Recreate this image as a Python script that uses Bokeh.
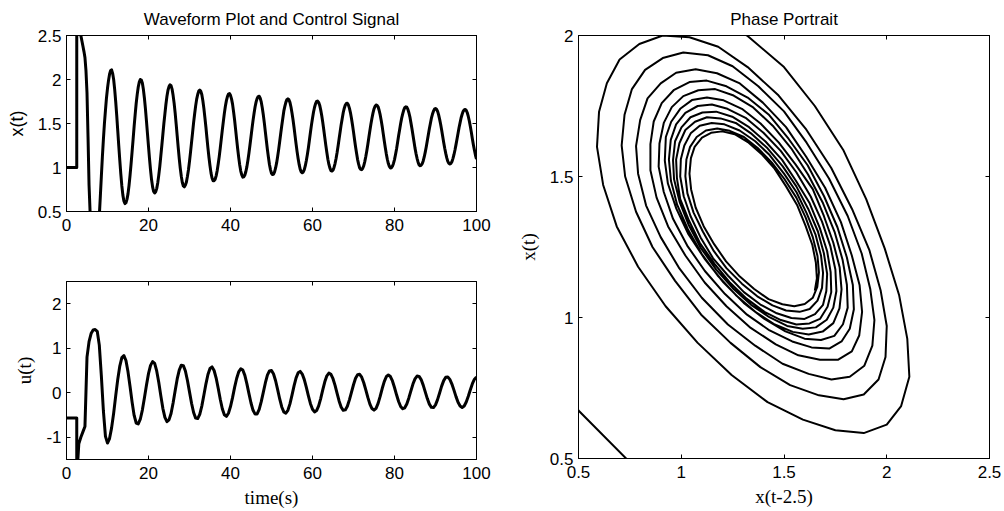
import numpy as np
from bokeh.plotting import figure
from bokeh.layouts import row, column
from bokeh.models import Range1d, LinearAxis, FixedTicker, CustomJSTickFormatter
from bokeh.embed import file_html
from bokeh.resources import INLINE

# ---------------- data ----------------
hist_time = [0.0, 2.5]          # history interval (constant initial function)
hist_x = [1.0, 1.0]
hist_u = [-0.57, -0.57]
sol_start = 2.5
x_step = 0.25
u_step = 0.5
delay = 2.5

# x(t), t = 2.5, 2.75, ..., 100
x_sol = [
    3.3, 3.07, 2.85, 2.66, 2.5, 2.44, 2.38, 2.32, 2.25, 2.1,
    1.85, 1.35, 0.8, 0.5, 0.3, 0.19, 0.12, 0.09, 0.08, 0.11,
    0.18, 0.29, 0.45, 0.67, 0.9, 1.12, 1.32, 1.5, 1.65, 1.79,
    1.9, 1.99, 2.06, 2.1, 2.11, 2.07, 2.0, 1.888, 1.75, 1.592,
    1.42, 1.245, 1.08, 0.924, 0.79, 0.686, 0.62, 0.59, 0.6, 0.638,
    0.7, 0.796, 0.91, 1.04, 1.18, 1.323, 1.47, 1.605, 1.73, 1.831,
    1.915, 1.97, 2.0, 1.994, 1.96, 1.888, 1.79, 1.67, 1.53, 1.385,
    1.24, 1.097, 0.97, 0.86, 0.78, 0.727, 0.71, 0.724, 0.76, 0.824,
    0.91, 1.01, 1.13, 1.25, 1.375, 1.5, 1.61, 1.719, 1.81, 1.878,
    1.92, 1.94, 1.93, 1.891, 1.82, 1.731, 1.62, 1.493, 1.36, 1.227,
    1.1, 0.991, 0.9, 0.829, 0.79, 0.78, 0.8, 0.836, 0.9, 0.975,
    1.07, 1.174, 1.285, 1.397, 1.51, 1.608, 1.7, 1.777, 1.83, 1.868,
    1.88, 1.866, 1.83, 1.762, 1.675, 1.57, 1.46, 1.338, 1.22, 1.114,
    1.02, 0.936, 0.88, 0.85, 0.85, 0.866, 0.905, 0.963, 1.04, 1.124,
    1.22, 1.323, 1.425, 1.522, 1.615, 1.695, 1.76, 1.806, 1.835, 1.84,
    1.82, 1.78, 1.72, 1.634, 1.54, 1.43, 1.32, 1.213, 1.115, 1.029,
    0.96, 0.915, 0.89, 0.894, 0.915, 0.954, 1.01, 1.083, 1.165, 1.255,
    1.35, 1.445, 1.535, 1.617, 1.69, 1.746, 1.785, 1.806, 1.81, 1.787,
    1.745, 1.68, 1.6, 1.507, 1.405, 1.304, 1.205, 1.116, 1.035, 0.976,
    0.935, 0.92, 0.925, 0.951, 0.995, 1.052, 1.125, 1.206, 1.295, 1.386,
    1.475, 1.556, 1.64, 1.694, 1.74, 1.771, 1.78, 1.77, 1.74, 1.688,
    1.62, 1.543, 1.455, 1.36, 1.265, 1.177, 1.1, 1.032, 0.98, 0.95,
    0.94, 0.949, 0.975, 1.02, 1.08, 1.149, 1.225, 1.313, 1.4, 1.484,
    1.56, 1.63, 1.685, 1.726, 1.75, 1.755, 1.74, 1.708, 1.655, 1.591,
    1.515, 1.429, 1.34, 1.252, 1.17, 1.094, 1.035, 0.992, 0.965, 0.96,
    0.97, 1.001, 1.045, 1.103, 1.17, 1.248, 1.33, 1.41, 1.49, 1.558,
    1.625, 1.674, 1.71, 1.727, 1.73, 1.712, 1.675, 1.624, 1.56, 1.485,
    1.405, 1.318, 1.235, 1.161, 1.09, 1.038, 0.995, 0.979, 0.975, 0.991,
    1.02, 1.067, 1.125, 1.191, 1.265, 1.343, 1.42, 1.494, 1.56, 1.618,
    1.665, 1.694, 1.71, 1.706, 1.69, 1.651, 1.6, 1.536, 1.465, 1.385,
    1.305, 1.228, 1.155, 1.094, 1.045, 1.012, 0.995, 0.998, 1.015, 1.046,
    1.09, 1.148, 1.21, 1.284, 1.36, 1.43, 1.5, 1.561, 1.61, 1.653,
    1.68, 1.69, 1.685, 1.663, 1.625, 1.576, 1.51, 1.444, 1.37, 1.295,
    1.22, 1.158, 1.105, 1.06, 1.03, 1.02, 1.025, 1.043, 1.075, 1.12,
    1.175, 1.236, 1.305, 1.372, 1.44, 1.501, 1.56, 1.605, 1.64, 1.663,
    1.67, 1.662, 1.64, 1.601, 1.55, 1.492, 1.425, 1.355, 1.285, 1.218,
    1.16, 1.109, 1.07, 1.048, 1.04, 1.047, 1.065, 1.101, 1.145, 1.199,
    1.26, 1.324, 1.39, 1.454, 1.51, 1.565, 1.605, 1.638, 1.655, 1.66,
    1.65, 1.622, 1.58, 1.528, 1.465, 1.397, 1.325, 1.257, 1.195, 1.139,
    1.095,
]

# u(t), t = 2.5, 3.0, ..., 100
u_sol = [
    -1.9, -1.15, -1.0, -0.88, -0.76, 0.8, 1.15, 1.33, 1.41, 1.42,
    1.38, 1.07, 0.38, -0.41, -0.98, -1.13, -1.03, -0.79, -0.46, -0.07,
    0.3, 0.6, 0.79, 0.835, 0.725, 0.47, 0.14, -0.21, -0.51, -0.68,
    -0.7, -0.595, -0.39, -0.12, 0.17, 0.43, 0.615, 0.7, 0.66, 0.49,
    0.235, -0.065, -0.35, -0.555, -0.65, -0.61, -0.465, -0.23, 0.045, 0.31,
    0.51, 0.62, 0.61, 0.49, 0.275, 0.02, -0.235, -0.445, -0.57, -0.58,
    -0.485, -0.3, -0.055, 0.195, 0.41, 0.545, 0.58, 0.5, 0.33, 0.1,
    -0.147, -0.36, -0.495, -0.53, -0.46, -0.31, -0.11, 0.12, 0.32, 0.47,
    0.54, 0.51, 0.39, 0.2, -0.02, -0.23, -0.395, -0.48, -0.475, -0.375,
    -0.2, 0.01, 0.22, 0.395, 0.49, 0.5, 0.42, 0.27, 0.07, -0.14,
    -0.32, -0.43, -0.46, -0.395, -0.25, -0.055, 0.155, 0.335, 0.45, 0.48,
    0.42, 0.295, 0.12, -0.07, -0.245, -0.37, -0.43, -0.4, -0.295, -0.13,
    0.065, 0.245, 0.38, 0.44, 0.415, 0.315, 0.165, -0.015, -0.19, -0.325,
    -0.395, -0.385, -0.305, -0.16, 0.01, 0.18, 0.325, 0.405, 0.415, 0.35,
    0.225, 0.065, -0.105, -0.255, -0.355, -0.39, -0.35, -0.24, -0.083, 0.095,
    0.25, 0.36, 0.4, 0.365, 0.265, 0.118, -0.046, -0.197, -0.31, -0.36,
    -0.338, -0.252, -0.116, 0.043, 0.195, 0.312, 0.374, 0.368, 0.296, 0.171,
    0.02, -0.131, -0.256, -0.328, -0.334, -0.273, -0.155, -0.005, 0.149, 0.272,
    0.347, 0.355, 0.301, 0.196, 0.059, -0.087, -0.215, -0.299, -0.33, -0.298,
    -0.208, -0.078, 0.069, 0.204, 0.304, 0.35,
]

time_ticks = [0, 20, 40, 60, 80, 100]
x_ticks = [0.5, 1, 1.5, 2, 2.5]
u_ticks = [-1, 0, 1, 2]
phase_x_ticks = [0.5, 1, 1.5, 2, 2.5]
phase_y_ticks = [0.5, 1, 1.5, 2]

# ---------------- derived series ----------------
tx_sol = sol_start + x_step * np.arange(len(x_sol))
tu_sol = sol_start + u_step * np.arange(len(u_sol))
tx_all = np.concatenate([hist_time, tx_sol])
x_all = np.concatenate([hist_x, x_sol])
tu_all = np.concatenate([hist_time, tu_sol])
u_all = np.concatenate([hist_u, u_sol])
lag = int(round(delay / x_step))
phase_delayed = np.array(x_sol[:-lag])   # x(t-2.5)
phase_now = np.array(x_sol[lag:])        # x(t)

# ---------------- styling helpers ----------------
SANS = "Liberation Sans"
SERIF = "Liberation Serif"
TICK_SIZE = "17px"
fmt_code = "return String(Math.round(tick*100)/100);"


def style_axis(ax, ticks, standoff):
    ax.ticker = FixedTicker(ticks=ticks)
    ax.formatter = CustomJSTickFormatter(code=fmt_code)
    ax.major_tick_in = 4
    ax.major_tick_out = 0
    ax.minor_tick_line_color = None
    ax.axis_line_color = "black"
    ax.major_tick_line_color = "black"
    ax.major_label_text_font = SANS
    ax.major_label_text_font_size = TICK_SIZE
    ax.major_label_text_color = "black"
    ax.major_label_standoff = standoff


def mirror_axis(ticks):
    ax = LinearAxis(ticker=FixedTicker(ticks=ticks))
    ax.major_tick_in = 4
    ax.major_tick_out = 0
    ax.minor_tick_line_color = None
    ax.axis_line_color = "black"
    ax.major_label_overrides = {t: "" for t in ticks}
    ax.major_label_text_font_size = "1px"
    ax.major_label_standoff = 0
    return ax


def make_fig(w, h, xr, yr, xt, yt, borders):
    left, right, top, bottom = borders
    p = figure(width=w, height=h, x_range=Range1d(*xr), y_range=Range1d(*yr),
               output_backend="svg", toolbar_location=None,
               min_border_left=left, min_border_right=right,
               min_border_top=top, min_border_bottom=bottom)
    p.xgrid.visible = False
    p.ygrid.visible = False
    p.outline_line_color = "black"
    p.background_fill_color = "white"
    p.border_fill_color = "white"
    xa = p.below[0]
    ya = p.left[0]
    style_axis(xa, xt, 7)
    style_axis(ya, yt, 5)
    p.add_layout(mirror_axis(xt), "above")
    p.add_layout(mirror_axis(yt), "right")
    return p, xa, ya


def style_title(p, text):
    p.title.text = text
    p.title.align = "center"
    p.title.text_font = SANS
    p.title.text_font_size = "17px"
    p.title.text_font_style = "normal"
    p.title.text_color = "black"
    p.title.standoff = 14


def label(ax, text, font, size, standoff):
    ax.axis_label = text
    ax.axis_label_text_font = font
    ax.axis_label_text_font_size = size
    ax.axis_label_text_font_style = "normal"
    ax.axis_label_text_color = "black"
    ax.axis_label_standoff = standoff


# ---------------- waveform x(t) ----------------
p1, p1x, p1y = make_fig(510, 250, (0, 100), (0.5, 2.5), time_ticks, x_ticks, (66, 34, 34, 39))
style_title(p1, "Waveform Plot and Control Signal")
label(p1y, "x(t)", SANS, "18px", 8)
p1.line(tx_all, x_all, line_color="black", line_width=3, line_join="round")

# ---------------- control u(t) ----------------
p2, p2x, p2y = make_fig(510, 261, (0, 100), (-1.5, 2.5), time_ticks, u_ticks, (66, 34, 31, 52))
label(p2y, "u(t)", SERIF, "19px", 8)
label(p2x, "time(s)", SERIF, "19px", 5)
p2.line(tu_all, u_all, line_color="black", line_width=3, line_join="round")

# ---------------- phase portrait ----------------
p3, p3x, p3y = make_fig(494, 511, (0.5, 2.5), (0.5, 2.0), phase_x_ticks, phase_y_ticks, (68, 15, 34, 53))
style_title(p3, "Phase Portrait")
label(p3y, "x(t)", SERIF, "19px", 8)
label(p3x, "x(t-2.5)", SERIF, "19px", 5)
p3.line(phase_delayed, phase_now, line_color="black", line_width=2, line_join="round")

layout = row(column(p1, p2), p3)
open("out.html", "w").write(file_html(layout, INLINE))
